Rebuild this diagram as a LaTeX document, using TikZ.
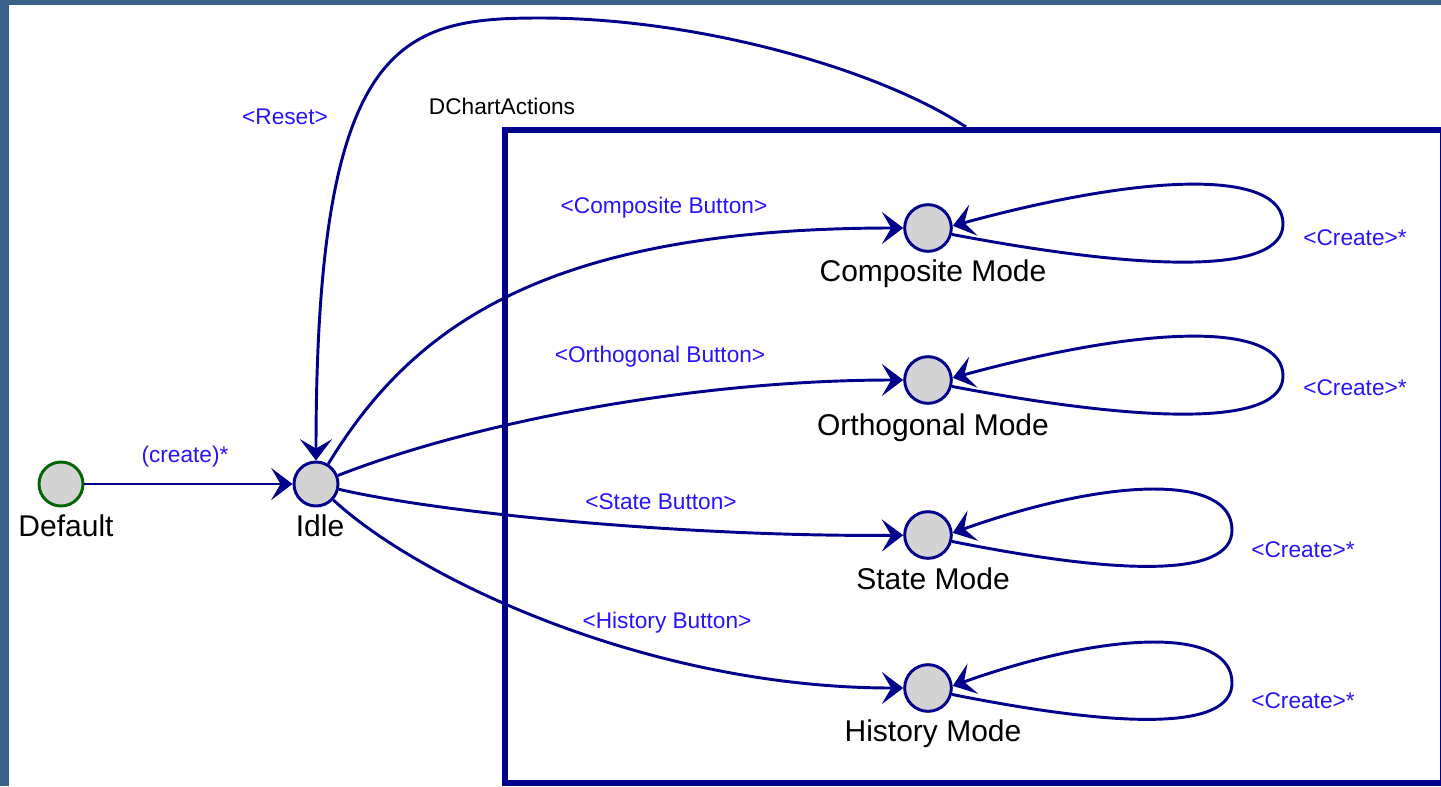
\documentclass[tikz,border=0pt]{standalone}
\usepackage{fontspec}
\setmainfont{Liberation Sans}
\usetikzlibrary{arrows.meta}
\definecolor{frameblue}{RGB}{58,97,135}
\definecolor{navy}{RGB}{0,0,140}
\definecolor{lblblue}{RGB}{40,20,250}
\definecolor{stategray}{RGB}{211,211,211}
\definecolor{initgreen}{RGB}{0,100,0}
\begin{document}
\begin{tikzpicture}[x=0.75pt,y=-0.75pt,
  state/.style={circle, draw=navy, fill=stategray, line width=2.2pt, minimum size=35pt, inner sep=0pt},
  initstate/.style={state, draw=initgreen, minimum size=33pt},
  statename/.style={anchor=base, font=\fontsize{22.5}{27}\selectfont, text=black, inner sep=0pt},
  evlabel/.style={anchor=base, font=\fontsize{17}{20}\selectfont, text=lblblue, inner sep=0pt},
  trans/.style={draw=navy, line width=2.2pt, -{Stealth[length=16pt,width=24pt,inset=7pt]}}
]
\useasboundingbox (0,0) rectangle (1441,786);
\fill[white] (0,0) rectangle (1441,786);
\fill[frameblue] (0,0) rectangle (1441,5);
\fill[frameblue] (0,0) rectangle (9,786);

% container box
\node[draw=navy, line width=4.5pt, minimum width=703.5pt, minimum height=489.75pt, inner sep=0pt, anchor=north west] (box) at (502,127) {};

% states
\node[initstate] (def) at (61,484) {};
\node[state, minimum size=33pt] (idle) at (316,484) {};
\node[state] (comp) at (928,228) {};
\node[state] (orth) at (928,380) {};
\node[state] (stm) at (928,535) {};
\node[state] (hist) at (928,688) {};

% state names
\node[statename] (defl) at (66,536) {Default};
\node[statename] (idlel) at (320,536) {Idle};
\node[statename] (compl) at (933,281) {Composite Mode};
\node[statename] (orthl) at (933,435) {Orthogonal Mode};
\node[statename] (stml) at (933,589) {State Mode};
\node[statename] (histl) at (933,741) {History Mode};
\node[anchor=base, font=\fontsize{17}{20}\selectfont, inner sep=0pt] (dca) at (502,114) {DChartActions};

% event labels
\node[evlabel] (ev0) at (185,462) {(create)*};
\node[evlabel] (ev1) at (285,124) {<Reset>};
\node[evlabel] (ev2) at (664,213) {<Composite Button>};
\node[evlabel] (ev3) at (660,362) {<Orthogonal Button>};
\node[evlabel] (ev4) at (661,509) {<State Button>};
\node[evlabel] (ev5) at (667,628) {<History Button>};
\node[evlabel] (ev6) at (1355,245) {<Create>*};
\node[evlabel] (ev7) at (1355,395) {<Create>*};
\node[evlabel] (ev8) at (1303,557) {<Create>*};
\node[evlabel] (ev9) at (1303,708) {<Create>*};

% transitions
\draw[trans] (def) -- (idle);
\draw[trans] (idle) .. controls (410,330) and (540,228) .. (comp);
\draw[trans] (idle) .. controls (480,420) and (700,380) .. (orth);
\draw[trans] (idle) .. controls (450,515) and (700,537) .. (stm);
\draw[trans] (idle) .. controls (420,580) and (650,688) .. (hist);

% reset
\coordinate (rs) at (966,127);
\coordinate (rtop) at (540,18);
\draw[trans] (rs) .. controls (880,70) and (700,18) .. (rtop) .. controls (400,18) and (316,40) .. (idle);

% self loops
\coordinate (cl1) at (1283,224);
\coordinate (cl2) at (1283,376);
\coordinate (cl3) at (1232,530);
\coordinate (cl4) at (1232,683);
\draw[trans] (comp.-15) .. controls (1150,272) and (1283,274) .. (cl1) .. controls (1283,170) and (1150,172) .. (comp.5);
\draw[trans] (orth.-15) .. controls (1150,424) and (1283,426) .. (cl2) .. controls (1283,322) and (1150,324) .. (orth.5);
\draw[trans] (stm.-15) .. controls (1120,575) and (1232,578) .. (cl3) .. controls (1232,474) and (1110,477) .. (stm.5);
\draw[trans] (hist.-15) .. controls (1120,728) and (1232,731) .. (cl4) .. controls (1232,627) and (1110,630) .. (hist.5);
\end{tikzpicture}
\end{document}
